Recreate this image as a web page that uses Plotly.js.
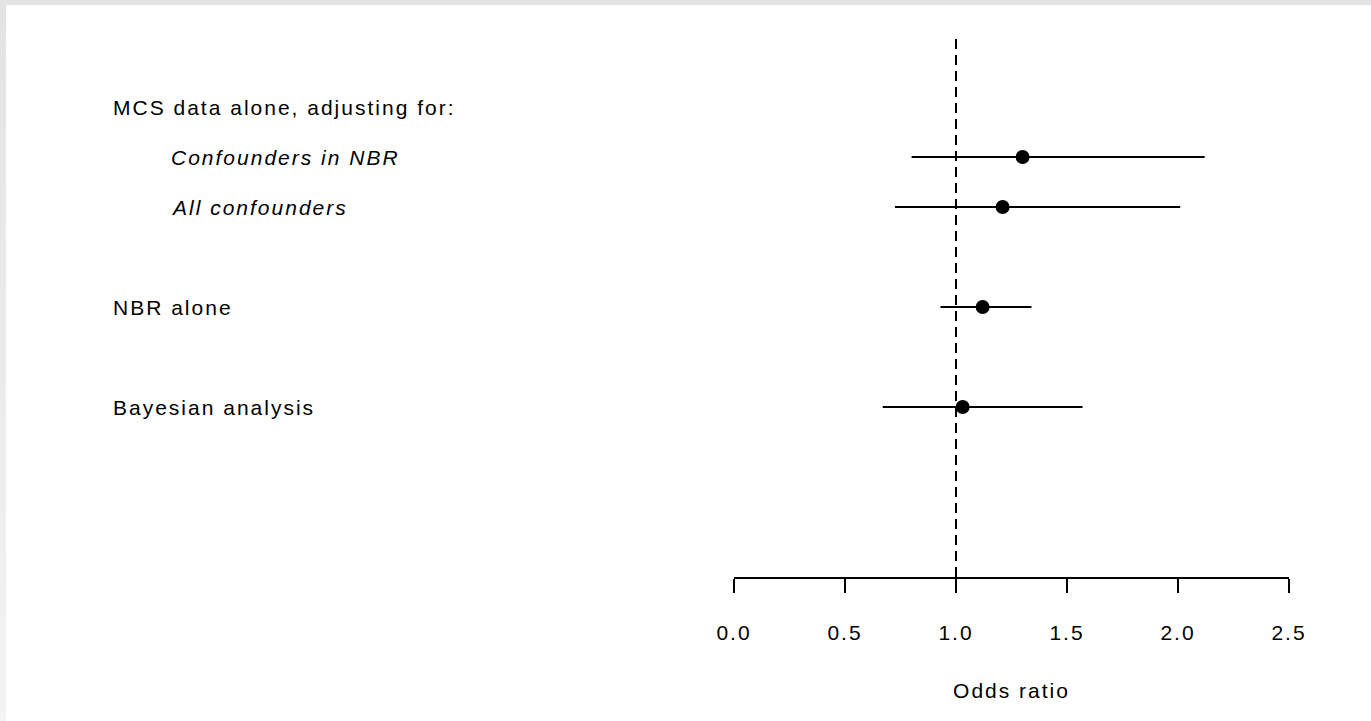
<!DOCTYPE html>
<html>
<head>
<meta charset="utf-8">
<script src="https://cdn.plot.ly/plotly-3.0.1.min.js"></script>
<style>
  html, body { margin: 0; padding: 0; width: 1371px; height: 721px; overflow: hidden; }
  body { background: linear-gradient(to bottom, #e3e3e3 0%, #f3f3f3 100%); }
  #chart { position: absolute; left: 6px; top: 5px; width: 1365px; height: 716px; background: #ffffff; }
  text { letter-spacing: 2px; }
</style>
</head>
<body>
<div id="chart"></div>
<script>
// ---- data ----
const labels   = ["MCS data alone, adjusting for:", "Confounders in NBR", "All confounders", "NBR alone", "Bayesian analysis"];
const italic   = [false, true, true, false, false];
const indented = [false, true, true, false, false];
const rows     = [1, 2, 3, 5, 7];
const estimate = [null, 1.30, 1.21, 1.12, 1.03];
const lower    = [null, 0.80, 0.725, 0.93, 0.67];
const upper    = [null, 2.12, 2.01, 1.34, 1.57];
const tickVals = [0.0, 0.5, 1.0, 1.5, 2.0, 2.5];
const tickText = ["0.0", "0.5", "1.0", "1.5", "2.0", "2.5"];
const refValue = 1.0;
const xTitle   = "Odds ratio";

// ---- layout geometry ----
const W = 1365, H = 716;
const mL = 728, mR = 82, mT = 34, mB = 144;
const plotW = W - mL - mR;
const FONT = "Liberation Sans, Arial, Helvetica, sans-serif";

const pts = { x: [], y: [], plus: [], minus: [] };
for (let i = 0; i < rows.length; i++) {
  if (estimate[i] === null) continue;
  pts.x.push(estimate[i]);
  pts.y.push(rows[i]);
  pts.plus.push(upper[i] - estimate[i]);
  pts.minus.push(estimate[i] - lower[i]);
}

const trace = {
  type: "scatter",
  mode: "markers",
  x: pts.x,
  y: pts.y,
  marker: { color: "#000000", size: 14, symbol: "circle" },
  error_x: {
    type: "data", symmetric: false,
    array: pts.plus, arrayminus: pts.minus,
    color: "#000000", thickness: 2, width: 0
  },
  hoverinfo: "x",
  showlegend: false
};

// label x positions in paper units (pixel offsets relative to plot left)
const headX = (111 - 6 - mL) / plotW;
const subX  = (169 - 6 - mL) / plotW;

const annotations = labels.map((t, i) => ({
  text: t,
  xref: "paper", yref: "y",
  x: indented[i] ? subX : headX,
  y: rows[i],
  xanchor: "left", yanchor: "middle",
  showarrow: false,
  font: { family: FONT, size: 21, color: "#000000", style: italic[i] ? "italic" : "normal" }
}));

const layout = {
  width: W, height: H,
  margin: { l: mL, r: mR, t: mT, b: mB, pad: 0 },
  paper_bgcolor: "#ffffff",
  plot_bgcolor: "#ffffff",
  font: { family: FONT, size: 21, color: "#000000" },
  xaxis: {
    range: [0, 2.5],
    tickvals: tickVals,
    ticktext: tickText,
    ticks: "outside",
    ticklen: 14,
    tickwidth: 2,
    tickcolor: "#000000",
    ticklabelstandoff: 22,
    showline: true,
    linecolor: "#000000",
    linewidth: 2,
    showgrid: false,
    zeroline: false,
    tickfont: { family: FONT, size: 21, color: "#000000" },
    title: { text: xTitle, standoff: 40, font: { family: FONT, size: 21, color: "#000000" } },
    fixedrange: true
  },
  yaxis: {
    range: [10.4, -0.36],
    visible: false,
    showgrid: false,
    zeroline: false,
    fixedrange: true
  },
  shapes: [{
    type: "line", xref: "x", yref: "paper",
    x0: refValue, x1: refValue, y0: 0, y1: 1,
    line: { color: "#000000", width: 2, dash: "10px,6px" },
    layer: "below"
  }],
  annotations: annotations
};

Plotly.newPlot("chart", [trace], layout, { displayModeBar: false, staticPlot: true });
</script>
</body>
</html>
